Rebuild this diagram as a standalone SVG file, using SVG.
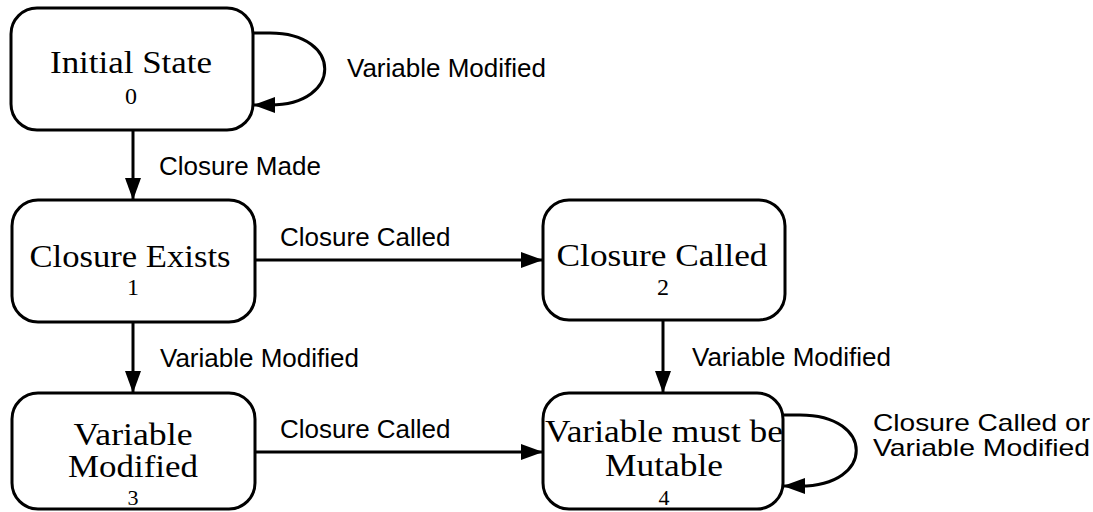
<svg xmlns="http://www.w3.org/2000/svg" width="1093" height="512" viewBox="0 0 1093 512">
<style>
.node{fill:#fff;stroke:#000;stroke-width:3}
.st{font-family:"Liberation Serif",serif;font-size:31px;text-anchor:middle;fill:#000}
.num{font-family:"Liberation Serif",serif;font-size:24px;text-anchor:middle;fill:#000}
.num2{font-family:"Liberation Serif",serif;font-size:22px;text-anchor:middle;fill:#000}
.lbl{font-family:"Liberation Sans",Arial,sans-serif;font-size:26px;fill:#000}
.lbs{font-family:"Liberation Sans",Arial,sans-serif;font-size:24px;fill:#000}
.edge{fill:none;stroke:#000;stroke-width:3;marker-end:url(#arr)}
</style>
<defs>
<marker id="arr" markerUnits="userSpaceOnUse" markerWidth="24" markerHeight="18" refX="22" refY="8" orient="auto">
<path d="M0,0 L22,8 L0,16 Z" fill="#000"/>
</marker>
</defs>
<rect width="1093" height="512" fill="#fff"/>
<g id="connectors">
<line class="edge" x1="133" y1="130" x2="133" y2="200"/>
<line class="edge" x1="255" y1="260" x2="543" y2="260"/>
<line class="edge" x1="133" y1="322" x2="133" y2="393"/>
<line class="edge" x1="663" y1="320" x2="663" y2="393"/>
<line class="edge" x1="255" y1="452" x2="543" y2="452"/>
<path class="edge" d="M253,33 H270 C343,33 343,105 270,105 H253"/>
<path class="edge" d="M783,415 H800 C875,415 875,486 800,486 H783"/>
<text class="lbl" x="347" y="77">Variable Modified</text>
<text class="lbl" x="159" y="175">Closure Made</text>
<text class="lbl" x="280" y="246">Closure Called</text>
<text class="lbl" x="160" y="367">Variable Modified</text>
<text class="lbl" x="692" y="366">Variable Modified</text>
<text class="lbl" x="280" y="438">Closure Called</text>
<text class="lbs" x="873" y="431" textLength="217" lengthAdjust="spacingAndGlyphs">Closure Called or</text>
<text class="lbs" x="873" y="456" textLength="217" lengthAdjust="spacingAndGlyphs">Variable Modified</text>
</g>
<g id="node0">
<rect class="node" x="11" y="8" width="242" height="122" rx="26"/>
<text class="st" x="131" y="73" textLength="162" lengthAdjust="spacingAndGlyphs">Initial State</text>
<text class="num" x="131" y="104">0</text>
</g>
<g id="node1">
<rect class="node" x="12" y="200" width="243" height="122" rx="26"/>
<text class="st" x="130" y="267" textLength="201" lengthAdjust="spacingAndGlyphs">Closure Exists</text>
<text class="num" x="133" y="295">1</text>
</g>
<g id="node2">
<rect class="node" x="543" y="200" width="242" height="120" rx="26"/>
<text class="st" x="662" y="266" textLength="211" lengthAdjust="spacingAndGlyphs">Closure Called</text>
<text class="num" x="663" y="295">2</text>
</g>
<g id="node3">
<rect class="node" x="12" y="393" width="243" height="116" rx="26"/>
<text class="st" x="133" y="445" textLength="119" lengthAdjust="spacingAndGlyphs">Variable</text>
<text class="st" x="133" y="477" textLength="130" lengthAdjust="spacingAndGlyphs">Modified</text>
<text class="num2" x="133" y="505">3</text>
</g>
<g id="node4">
<rect class="node" x="543" y="393" width="240" height="116" rx="26"/>
<text class="st" x="664" y="442" textLength="238" lengthAdjust="spacingAndGlyphs">Variable must be</text>
<text class="st" x="664" y="476" textLength="118" lengthAdjust="spacingAndGlyphs">Mutable</text>
<text class="num2" x="664" y="505">4</text>
</g>
</svg>
